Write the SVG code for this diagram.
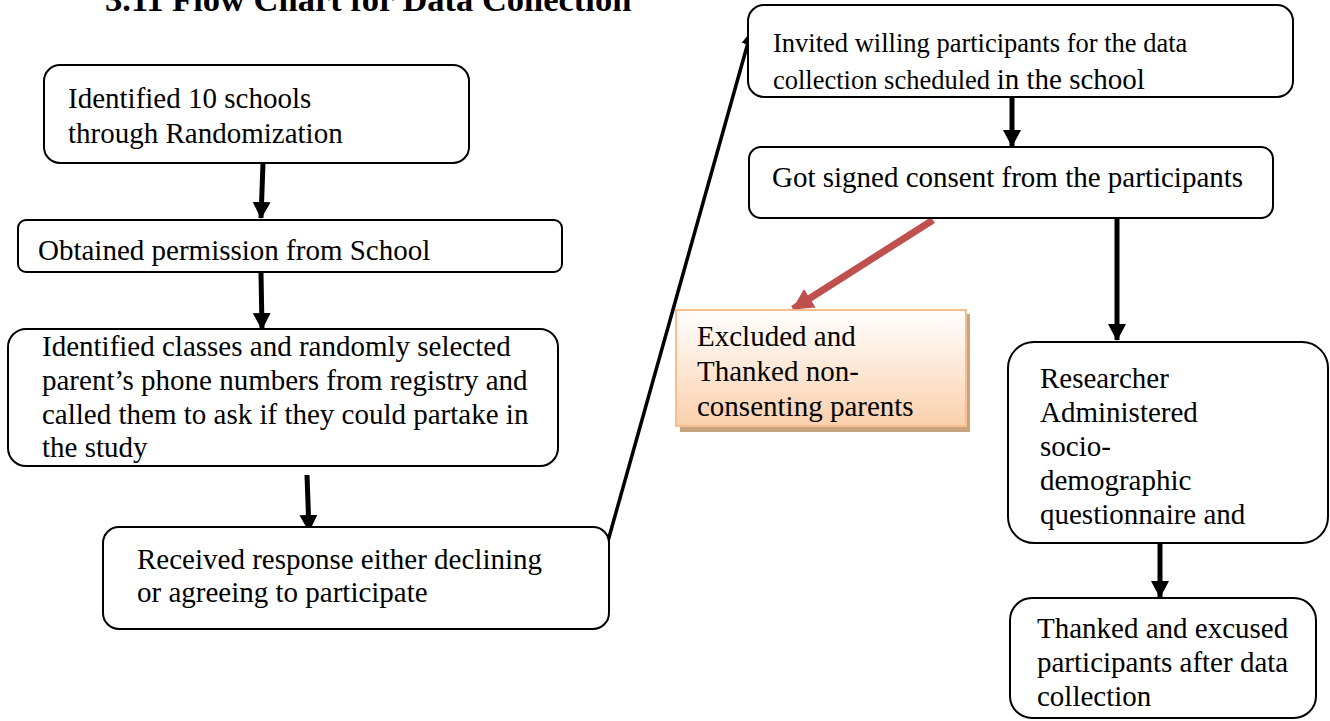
<svg xmlns="http://www.w3.org/2000/svg" width="1330" height="721" viewBox="0 0 1330 721">
<style>
.t{font-family:'Liberation Serif','Times New Roman',serif;font-size:29px;fill:#000}
.s{font-size:26.5px}
.box{fill:#fff;stroke:#000;stroke-width:2}
.c{stroke:#000;stroke-width:5;fill:none}
</style>
<defs>
<marker id="ah" markerUnits="userSpaceOnUse" markerWidth="18" markerHeight="18" refX="16" refY="9" orient="auto">
<path d="M0,0 L17,9 L0,18 Z" fill="#000"/>
</marker>
<marker id="ahs" markerUnits="userSpaceOnUse" markerWidth="14" markerHeight="12" refX="13" refY="6" orient="auto">
<path d="M0,0 L14,6 L0,12 Z" fill="#000"/>
</marker>
<marker id="ahr" markerUnits="userSpaceOnUse" markerWidth="22" markerHeight="22" refX="20" refY="11" orient="auto">
<path d="M0,0 L21,11 L0,22 Z" fill="#C0504D"/>
</marker>
<linearGradient id="og" x1="0" y1="0" x2="0" y2="1">
<stop offset="0" stop-color="#FFFFFF"/>
<stop offset="1" stop-color="#FAD0AC"/>
</linearGradient>
</defs>

<text x="105" y="11" font-family="Liberation Serif, Times New Roman, serif" font-size="34.5" font-weight="bold">3.11 Flow Chart for Data Collection</text>

<g id="connectors">
<line class="c" x1="263" y1="163" x2="261" y2="218" marker-end="url(#ah)"/>
<line class="c" x1="261" y1="273" x2="262" y2="329" marker-end="url(#ah)"/>
<line class="c" x1="307" y1="475" x2="309" y2="531" marker-end="url(#ah)"/>
<line x1="606" y1="548" x2="751" y2="32" stroke="#000" stroke-width="3.5" marker-end="url(#ahs)"/>
<line class="c" x1="1012" y1="97" x2="1012" y2="146" marker-end="url(#ah)"/>
<line class="c" x1="1117" y1="218" x2="1117" y2="340" marker-end="url(#ah)"/>
<line class="c" x1="1160" y1="543" x2="1160" y2="597" marker-end="url(#ah)"/>
<line x1="933" y1="220" x2="793" y2="309" stroke="#C0504D" stroke-width="7" marker-end="url(#ahr)"/>
</g>

<g font-family="Liberation Serif, Times New Roman, serif">
<g id="n1">
<rect class="box" x="44" y="65" width="425" height="98" rx="16"/>
<text class="t" x="68" y="108">Identified 10 schools</text>
<text class="t" x="68" y="143">through Randomization</text>
</g>

<g id="n2">
<rect class="box" x="18" y="220" width="544" height="52" rx="8"/>
<text class="t" x="38" y="260">Obtained permission from School</text>
</g>

<g id="n3">
<rect class="box" x="8" y="329" width="550" height="137" rx="18"/>
<text class="t" x="42" y="356">Identified classes and randomly selected</text>
<text class="t" x="42" y="390">parent’s phone numbers from registry and</text>
<text class="t" x="42" y="424">called them to ask if they could partake in</text>
<text class="t" x="42" y="457">the study</text>
</g>

<g id="n4">
<rect class="box" x="103" y="527" width="506" height="102" rx="16"/>
<text class="t" x="137" y="569">Received response either declining</text>
<text class="t" x="137" y="602">or agreeing to participate</text>
</g>

<g id="n5">
<rect class="box" x="748" y="5" width="545" height="92" rx="16"/>
<text class="t s" x="773" y="52">Invited willing participants for the data</text>
<text class="t" x="773" y="89"><tspan class="s">collection scheduled </tspan>in the school</text>
</g>

<g id="n6">
<rect class="box" x="749" y="147" width="524" height="71" rx="12"/>
<text class="t" x="772" y="187">Got signed consent from the participants</text>
</g>

<g id="n7">
<rect x="680" y="314" width="290" height="118" fill="#C9A27E"/>
<rect x="676" y="310" width="290" height="116" fill="url(#og)" stroke="#F9BE8F" stroke-width="2"/>
<text class="t" x="697" y="346">Excluded and</text>
<text class="t" x="697" y="381">Thanked non-</text>
<text class="t" x="697" y="416">consenting parents</text>
</g>

<g id="n8">
<rect class="box" x="1008" y="342" width="320" height="201" rx="26"/>
<text class="t" x="1040" y="388">Researcher</text>
<text class="t" x="1040" y="422">Administered</text>
<text class="t" x="1040" y="456">socio-</text>
<text class="t" x="1040" y="490">demographic</text>
<text class="t" x="1040" y="524">questionnaire and</text>
</g>

<g id="n9">
<rect class="box" x="1010" y="598" width="306" height="120" rx="22"/>
<text class="t" x="1037" y="638">Thanked and excused</text>
<text class="t" x="1037" y="672">participants after data</text>
<text class="t" x="1037" y="706">collection</text>
</g>
</g>
</svg>
